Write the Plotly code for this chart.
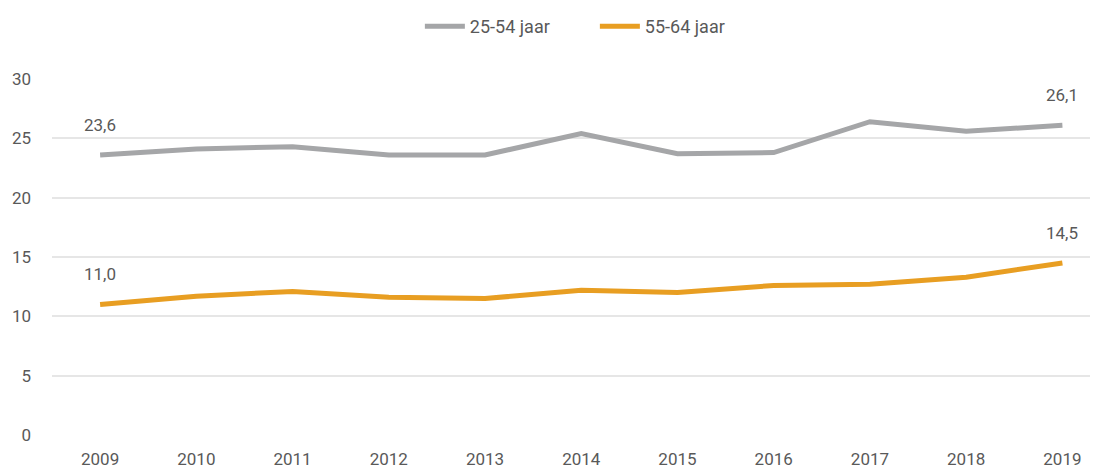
import plotly.graph_objects as go

years = ["2009", "2010", "2011", "2012", "2013", "2014", "2015", "2016", "2017", "2018", "2019"]
series_25_54 = [23.6, 24.1, 24.3, 23.6, 23.6, 25.4, 23.7, 23.8, 26.4, 25.6, 26.1]
series_55_64 = [11.0, 11.7, 12.1, 11.6, 11.5, 12.2, 12.0, 12.6, 12.7, 13.3, 14.5]
y_ticks = [0, 5, 10, 15, 20, 25, 30]

FONT = "Roboto, Open Sans, sans-serif"
TXT = "#595959"
GRAY = "#A5A6A8"
ORANGE = "#E89E22"

fig = go.Figure()
fig.add_trace(go.Scatter(x=years, y=series_25_54, mode="lines", name="25-54 jaar",
                         line=dict(color=GRAY, width=5)))
fig.add_trace(go.Scatter(x=years, y=series_55_64, mode="lines", name="55-64 jaar",
                         line=dict(color=ORANGE, width=5)))

def fmt(v):
    return f"{v:.1f}".replace(".", ",")

for s in (series_25_54, series_55_64):
    for i in (0, len(years) - 1):
        fig.add_annotation(x=i, y=s[i], text=fmt(s[i]), showarrow=False,
                           yshift=30, font=dict(family=FONT, size=17, color=TXT))

# page body has an 8px margin; compensate so the chart fills the 1098x471 window
fig.update_layout(
    width=1090, height=463,
    paper_bgcolor="white", plot_bgcolor="white",
    margin=dict(l=44, r=0, t=71, b=36),
    font=dict(family=FONT, size=17, color=TXT),
    showlegend=True,
    legend=dict(orientation="h", x=0.519, xanchor="center", y=1.0, yanchor="top",
                yref="container", font=dict(family=FONT, size=18, color=TXT),
                itemwidth=40, tracegroupgap=0, entrywidth=120, entrywidthmode="pixels"),
    xaxis=dict(type="category", range=[-0.5, 10.37], showgrid=False, showline=False,
               zeroline=False, ticks="", tickfont=dict(family=FONT, size=17, color=TXT),
               ticklabelstandoff=12),
    yaxis=dict(range=[0, 30], tickvals=y_ticks, showgrid=True, gridcolor="#E6E6E6",
               gridwidth=1.5, zeroline=False, showline=False, ticks="",
               tickfont=dict(family=FONT, size=17, color=TXT), ticklabelstandoff=20),
)

fig.write_html("out.html")
